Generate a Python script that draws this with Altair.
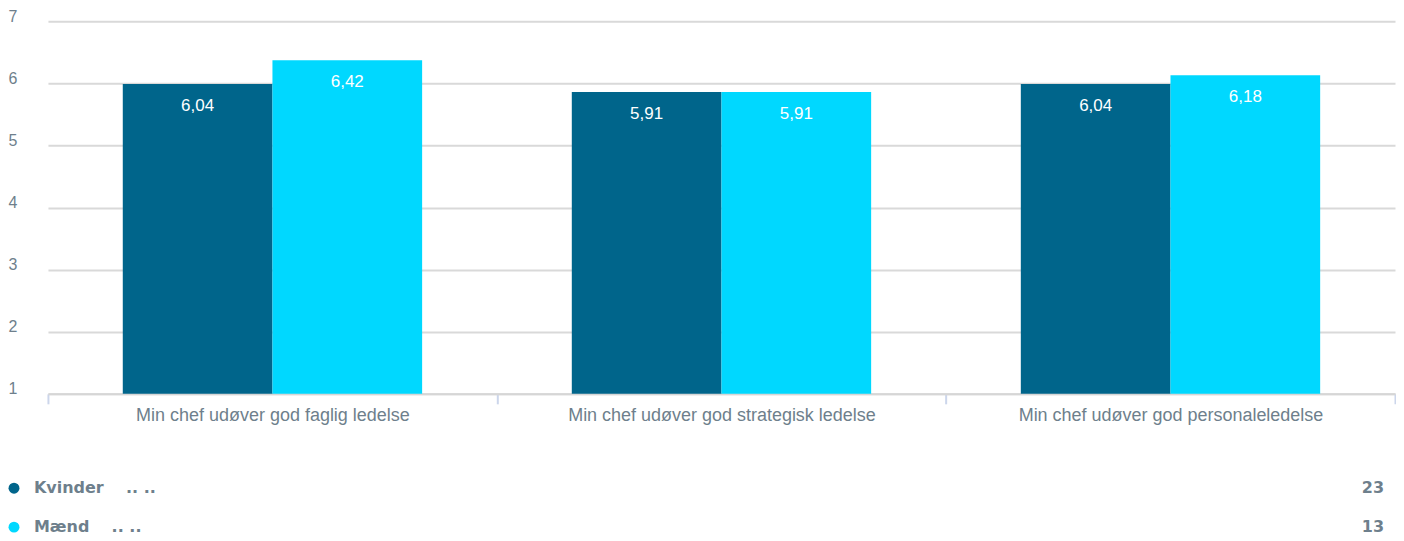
import altair as alt
import pandas as pd

categories = [
    "Min chef udøver god faglig ledelse",
    "Min chef udøver god strategisk ledelse",
    "Min chef udøver god personaleledelse",
]
groups = ["Kvinder", "Mænd"]
kvinder = [6.04, 5.91, 6.04]
maend = [6.42, 5.91, 6.18]
counts = [23, 13]
colors = ["#00658b", "#00d8ff"]
y_ticks = [1, 2, 3, 4, 5, 6, 7]

rows = []
for i, c in enumerate(categories):
    rows.append(dict(cat=c, group="Kvinder", value=kvinder[i]))
    rows.append(dict(cat=c, group="Mænd", value=maend[i]))
df = pd.DataFrame(rows)

W = 1349
H = 373
grey = "#6e7f8c"
font = "Liberation Sans"

color = alt.Color("group:N", scale=alt.Scale(domain=groups, range=colors), legend=None)

x = alt.X(
    "cat:N", sort=categories, title=None,
    scale=alt.Scale(paddingInner=0, paddingOuter=0),
    axis=alt.Axis(
        tickBand="extent", labelAngle=0, labelFontSize=18, labelColor=grey,
        labelFont=font, labelLimit=0, domainColor="#d6d6d6", domainWidth=2,
        tickColor="#ccd6eb", tickSize=10, tickWidth=2, labelPadding=3, grid=False,
    ),
)
xo = alt.XOffset("group:N", sort=groups, scale=alt.Scale(paddingInner=0, paddingOuter=0.5))
y = alt.Y(
    "value:Q", title=None, scale=alt.Scale(domain=[1, 7], nice=False, zero=False),
    axis=alt.Axis(
        values=y_ticks, format="d", labelAlign="left", labelBaseline="alphabetic",
        labelPadding=40, ticks=False, domain=False, gridColor="#d9d9d9", gridWidth=2,
        labelFontSize=16, labelColor=grey, labelFont=font,
    ),
)

bars = alt.Chart(df).mark_bar(width={"band": 1}, yOffset=3).encode(
    x=x, xOffset=xo, y=y, y2=alt.datum(1), color=color
)
labels = alt.Chart(df).transform_calculate(
    lab="replace(format(datum.value, '.2f'), '.', ',')"
).mark_text(
    baseline="middle", dy=25, fontSize=17, font=font, color="white"
).encode(x=x, xOffset=xo, y="value:Q", text="lab:N")

main = alt.layer(bars, labels).properties(width=W, height=H)

leg_df = pd.DataFrame({
    "group": groups,
    "count": counts,
    "entry": [g + "\u00a0" * 4 + ".. .." for g in groups],
})
ly = alt.Y("group:N", sort=groups, axis=None, scale=alt.Scale(paddingInner=0, paddingOuter=0))
lbase = alt.Chart(leg_df)
names = lbase.mark_text(
    align="left", baseline="middle", fontSize=16, fontWeight="bold", font="DejaVu Sans", color=grey
).encode(x=alt.value(-14), y=ly, text="entry:N")
circles = lbase.mark_circle(size=120, opacity=1).encode(x=alt.value(-34), y=ly, color=color)
nums = lbase.mark_text(
    align="right", baseline="middle", fontSize=16, fontWeight="bold", font="DejaVu Sans", color=grey
).encode(x=alt.value(W - 11), y=ly, text="count:Q")
legend = alt.layer(names, circles, nums).properties(width=W, height=78)

chart = alt.vconcat(main, legend, spacing=44).properties(
    padding={"left": 0, "top": 0, "right": 0, "bottom": 0}
).configure_view(stroke=None)

chart.save("out.html", embed_options={"renderer": "svg", "actions": False})
